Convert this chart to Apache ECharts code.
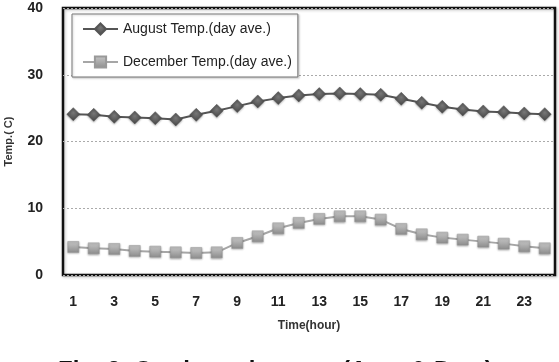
<!DOCTYPE html>
<html>
<head>
<meta charset="utf-8">
<script src="https://cdn.jsdelivr.net/npm/echarts@6/dist/echarts.min.js"></script>
<style>
  html, body { margin: 0; padding: 0; background: #fff; }
  #chart { width: 559px; height: 362px; }
</style>
</head>
<body>
<div id="chart"></div>
<script>
// hours of the day
var hours = ['1', '2', '3', '4', '5', '6', '7', '8', '9', '10', '11', '12',
  '13', '14', '15', '16', '17', '18', '19', '20', '21', '22', '23', '24']

// day-average temperatures
var augustTemp = [24.1, 24.0, 23.7, 23.6, 23.5, 23.3, 24.0, 24.6, 25.3, 26.0, 26.5, 26.9,
  27.1, 27.2, 27.1, 27.0, 26.4, 25.8, 25.2, 24.8, 24.5, 24.4, 24.2, 24.1]
var decemberTemp = [4.2, 4.0, 3.9, 3.6, 3.5, 3.4, 3.3, 3.4, 4.8, 5.8, 7.0, 7.8,
  8.4, 8.8, 8.8, 8.3, 6.9, 6.1, 5.6, 5.3, 5.0, 4.7, 4.3, 4.0]

var seriesNames = ['August Temp.(day ave.)', 'December Temp.(day ave.)']
var caption = 'Fig. 3  Outdoor air temp. (Aug. & Dec.)'

var font = '"Liberation Sans", Arial, sans-serif'

var chart = echarts.init(document.getElementById('chart'))
chart.setOption({
  animation: false,
  backgroundColor: '#fff',
  textStyle: { fontFamily: font },
  grid: {
    show: true,
    left: 63,
    right: 4,
    top: 8,
    bottom: 87,
    outerBoundsMode: 'none',
    containLabel: false,
    borderColor: '#111',
    borderWidth: 2.5,
    shadowColor: 'rgba(0, 0, 0, 0.25)',
    shadowBlur: 3,
    shadowOffsetX: 1,
    shadowOffsetY: 1
  },
  legend: {
    orient: 'vertical',
    left: 72,
    top: 14,
    padding: [8, 6, 8, 10],
    itemWidth: 35,
    itemHeight: 14,
    itemGap: 19,
    backgroundColor: '#fff',
    borderColor: '#777',
    borderWidth: 1,
    shadowColor: 'rgba(0, 0, 0, 0.2)',
    shadowBlur: 2,
    shadowOffsetX: 1,
    shadowOffsetY: 1,
    textStyle: {
      fontSize: 14,
      color: '#222',
      fontFamily: font
    },
    data: seriesNames
  },
  xAxis: {
    type: 'category',
    data: hours,
    boundaryGap: true,
    name: 'Time(hour)',
    nameLocation: 'middle',
    nameGap: 45,
    nameTextStyle: {
      fontSize: 12,
      fontWeight: 'bold',
      color: '#333'
    },
    axisLine: { show: false },
    axisTick: { show: false },
    axisLabel: {
      interval: 1,
      margin: 20,
      fontSize: 14,
      fontWeight: 'bold',
      color: '#222'
    },
    splitLine: { show: false }
  },
  yAxis: {
    type: 'value',
    min: 0,
    max: 40,
    interval: 10,
    name: 'Temp.( C)',
    nameLocation: 'middle',
    nameGap: 49,
    nameRotate: 90,
    nameTextStyle: {
      fontSize: 11,
      fontWeight: 'bold',
      color: '#333'
    },
    axisLine: { show: false },
    axisTick: { show: false },
    axisLabel: {
      margin: 20,
      fontSize: 14,
      fontWeight: 'bold',
      color: '#222'
    },
    splitLine: {
      lineStyle: {
        color: '#aaa',
        type: [2, 2],
        width: 1
      }
    }
  },
  series: [{
    name: seriesNames[0],
    type: 'line',
    data: augustTemp,
    symbol: 'diamond',
    symbolSize: 13,
    lineStyle: { color: '#555', width: 2 },
    itemStyle: {
      color: new echarts.graphic.RadialGradient(0.5, 0.4, 0.6, [
        { offset: 0, color: '#777' },
        { offset: 1, color: '#444' }
      ]),
      borderColor: '#555',
      borderWidth: 0.5,
      shadowColor: 'rgba(0, 0, 0, 0.3)',
      shadowBlur: 2,
      shadowOffsetY: 1
    }
  }, {
    name: seriesNames[1],
    type: 'line',
    data: decemberTemp,
    symbol: 'rect',
    symbolSize: 11,
    lineStyle: { color: '#a6a6a6', width: 2 },
    itemStyle: {
      color: new echarts.graphic.LinearGradient(0, 0, 0, 1, [
        { offset: 0, color: '#c8c8c8' },
        { offset: 1, color: '#8c8c8c' }
      ]),
      borderColor: '#999',
      borderWidth: 0.5,
      shadowColor: 'rgba(0, 0, 0, 0.3)',
      shadowBlur: 2,
      shadowOffsetY: 1
    }
  }],
  graphic: [{
    type: 'text',
    left: 58,
    top: 359,
    style: {
      text: caption,
      fontSize: 24,
      fontWeight: 'bold',
      fontFamily: font,
      fill: '#111'
    }
  }]
})
</script>
</body>
</html>
